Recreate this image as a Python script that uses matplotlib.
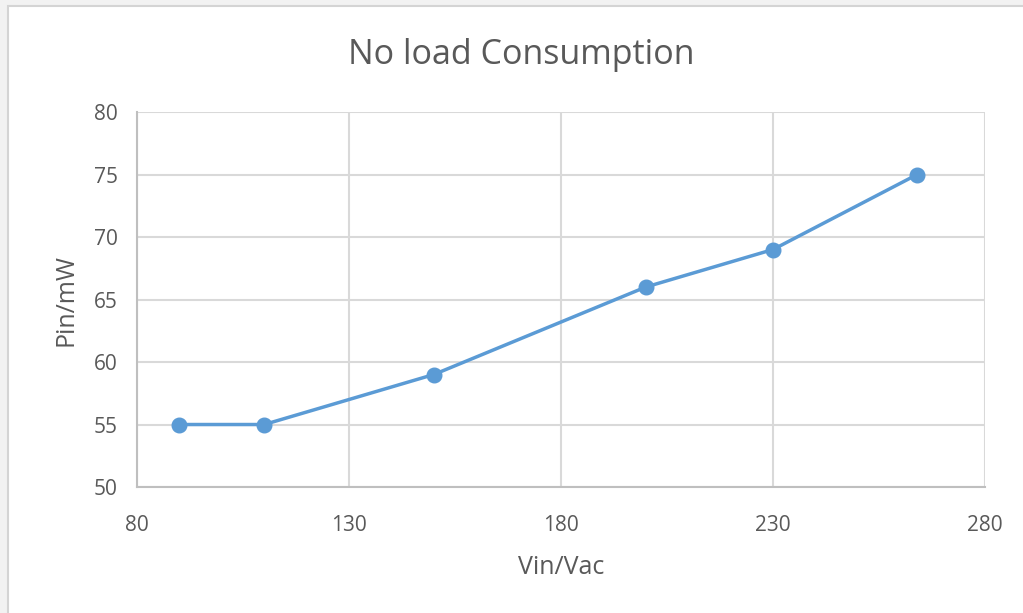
import matplotlib
matplotlib.use("Agg")
import matplotlib.pyplot as plt
from matplotlib.patches import Rectangle

vin = [90, 110, 150, 200, 230, 264]
pin = [55, 55, 59, 66, 69, 75]
xticks = [80, 130, 180, 230, 280]
yticks = [50, 55, 60, 65, 70, 75, 80]

plt.rcParams['font.family'] = ['Open Sans', 'DejaVu Sans']

fig = plt.figure(figsize=(10.23, 6.13), dpi=100, facecolor='#f2f2f2')
fig.patches.append(Rectangle((8 / 1023, -0.1), 1.2, 1.1 - 6 / 613, transform=fig.transFigure,
                             facecolor='white', edgecolor='#d4d4d4', lw=1.5, zorder=-5))

ax = fig.add_axes([0.1339, 0.2055, 0.829, 0.6118])
ax.set_zorder(2)
ax.patch.set_facecolor('white')

ax.plot(vin, pin, color='#5b9bd5', lw=2.5, marker='o', markersize=10.5, zorder=3)

ax.set_xlim(80, 280)
ax.set_ylim(50, 80)
ax.set_xticks(xticks)
ax.set_yticks(yticks)
ax.grid(True, color='#d9d9d9', lw=1.5)
ax.set_axisbelow(True)
for s in ['top', 'right']:
    ax.spines[s].set_visible(False)
for s in ['left', 'bottom']:
    ax.spines[s].set_color('#bfbfbf')
    ax.spines[s].set_linewidth(1.5)
ax.tick_params(axis='x', length=0, labelsize=15, colors='#595959', pad=20)
ax.tick_params(axis='y', length=0, labelsize=15, colors='#595959', pad=14)
ax.set_xlabel('Vin/Vac', fontsize=18, color='#595959', labelpad=14)
ax.set_ylabel('Pin/mW', fontsize=18, color='#595959', labelpad=11)
fig.text(0.51, 0.91, 'No load Consumption', ha='center', va='center', fontsize=24.5,
         color='#595959', zorder=3)

fig.savefig('out.png', dpi=100, facecolor=fig.get_facecolor())
